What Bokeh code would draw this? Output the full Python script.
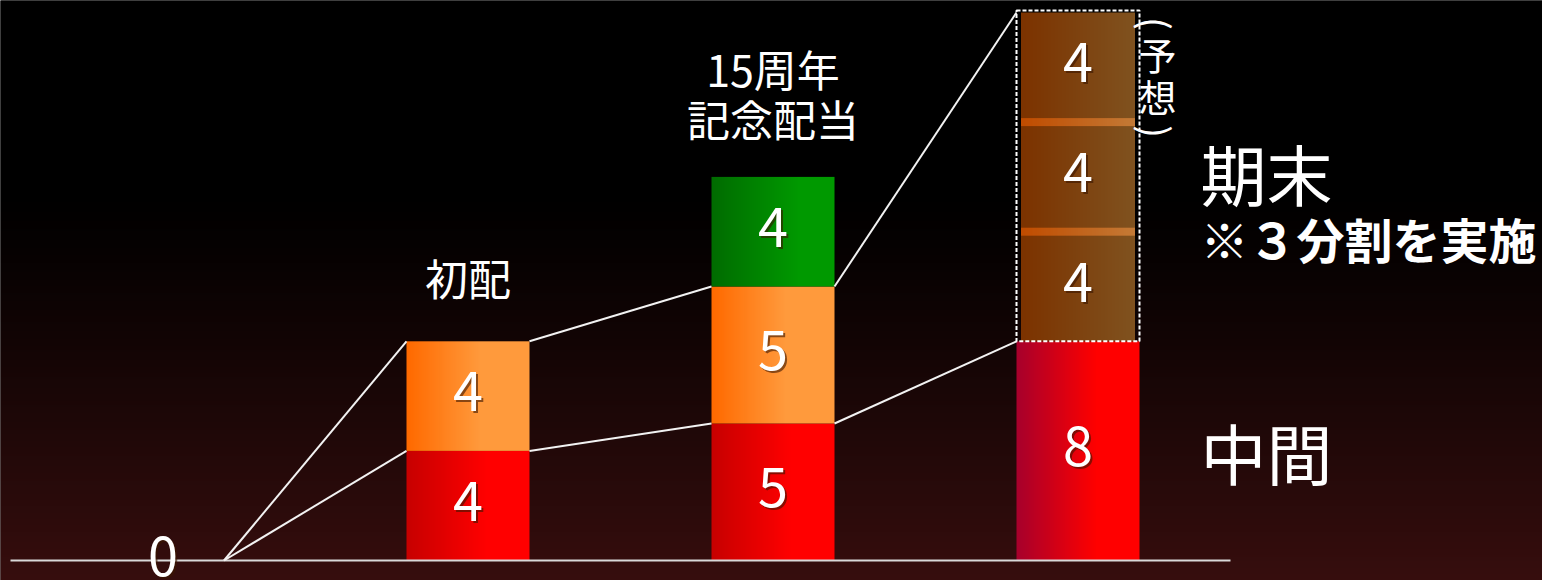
import numpy as np
from bokeh.plotting import figure
from bokeh.models import Range1d
from bokeh.core.properties import value
from bokeh.embed import file_html
from bokeh.resources import INLINE

# ---------------- data ----------------
categories = ["初配", "15周年記念配当", "今期（予想）"]
x_pos = [1, 2, 3]
interim = [4, 5, 8]            # 中間
final_ordinary = [4, 5, 0]     # 期末 (bars 1, 2)
commemorative = [0, 4, 0]      # 15周年記念配当
forecast_parts = [4, 4, 4]     # 期末 3分割 (bar 3, 予想)
zero_label = "0"

# ---------------- geometry / style ----------------
PX_X = 305.0
PX_Y = 27.4
W, H = 1542, 580
x0 = 1 - 467.5 / PX_X
x1 = x0 + W / PX_X
y1 = 560 / PX_Y
y0 = y1 - H / PX_Y
hw = 123 / PX_X / 2
brown_hw = 114 / PX_X / 2
FONT = value("Noto Sans CJK JP")
TY = -5  # vertical text nudge (px)

p = figure(width=W, height=H, output_backend="svg", toolbar_location=None,
           x_range=Range1d(x0, x1), y_range=Range1d(y0, y1), min_border=0)
p.axis.visible = False
p.grid.visible = False
p.outline_line_color = None
p.background_fill_color = "#000000"
p.border_fill_color = "#000000"


def hexrgb(h):
    h = h.lstrip("#")
    return np.array([int(h[i:i + 2], 16) for i in (0, 2, 4)], dtype=float)


def hgrad(c_left, c_right, knee=1.0, n=64):
    a, b = hexrgb(c_left), hexrgb(c_right)
    t = np.clip(np.linspace(0, 1, n) / knee, 0, 1)
    cols = a[None, :] * (1 - t[:, None]) + b[None, :] * t[:, None]
    img = np.empty((1, n), dtype=np.uint32)
    v = img.view(dtype=np.uint8).reshape((1, n, 4))
    v[0, :, 0:3] = cols.astype(np.uint8)
    v[0, :, 3] = 255
    return img


# background gradient (black top -> dark maroon bottom), slightly oversized
pad = 1.0
by0, by1 = y0 - pad, y1 + pad
nb = 300
bg = np.empty((nb, 1), dtype=np.uint32)
bv = bg.view(dtype=np.uint8).reshape((nb, 1, 4))
top_c, bot_c = hexrgb("#000000"), hexrgb("#370e0e")
for i in range(nb):
    yv = by0 + (i + 0.5) * (by1 - by0) / nb
    pagepx = 560 - yv * PX_Y
    t = np.clip((pagepx - 190) / (580 - 190), 0, 1) ** 1.15
    c = top_c * (1 - t) + bot_c * t
    bv[i, 0, 0:3] = c.astype(np.uint8)
    bv[i, 0, 3] = 255
p.image_rgba(image=[bg], x=x0 - pad, y=by0, dw=x1 - x0 + 2 * pad, dh=by1 - by0)

# ---------------- bars (gradient fills) ----------------
imgs, xs, ys, dws, dhs = [], [], [], [], []
red_cols = [("#c80000", "#ff0000", 0.65), ("#c80000", "#ff0000", 0.65), ("#a8002c", "#ff0000", 0.65)]
for i, xc in enumerate(x_pos):
    cl, cr, k = red_cols[i]
    imgs.append(hgrad(cl, cr, k)); xs.append(xc - hw); ys.append(0); dws.append(2 * hw); dhs.append(interim[i])
    if final_ordinary[i] > 0:
        imgs.append(hgrad("#ff6a00", "#ff9a3c", 0.6)); xs.append(xc - hw); ys.append(interim[i])
        dws.append(2 * hw); dhs.append(final_ordinary[i])
    if commemorative[i] > 0:
        imgs.append(hgrad("#006c00", "#009900", 0.7)); xs.append(xc - hw)
        ys.append(interim[i] + final_ordinary[i]); dws.append(2 * hw); dhs.append(commemorative[i])

# forecast bar (3 parts)
xc3 = x_pos[2]
base = interim[2]
cum = base
part_bounds = []
for v in forecast_parts:
    imgs.append(hgrad("#7c3300", "#80521f", 1.0)); xs.append(xc3 - brown_hw); ys.append(cum)
    dws.append(2 * brown_hw); dhs.append(v)
    cum += v
    part_bounds.append(cum)
band_h = 8 / PX_Y
for b in part_bounds[:-1]:
    imgs.append(hgrad("#c04c00", "#c47a36", 1.0)); xs.append(xc3 - brown_hw); ys.append(b - band_h / 2)
    dws.append(2 * brown_hw); dhs.append(band_h)
p.image_rgba(image=imgs, x=xs, y=ys, dw=dws, dh=dhs)

# dashed frame around forecast
total3 = base + sum(forecast_parts)
p.quad(left=[xc3 - hw], right=[xc3 + hw], bottom=[base], top=[total3 + 2 / PX_Y],
       fill_color=None, line_color="#ffffff", line_width=2, line_dash="4 2")

# ---------------- baseline & connecting lines ----------------
p.segment(x0=[-0.5], y0=[0], x1=[3.5], y1=[0], line_color="#d9d9d9", line_width=2)

origin_x = 0.2
mid_levels = [0] + interim
ord_levels = [0] + [interim[i] + final_ordinary[i] for i in range(2)] + [total3]
sx0, sy0, sx1, sy1 = [], [], [], []
for i in range(3):
    left_x = origin_x if i == 0 else x_pos[i - 1] + hw
    right_x = x_pos[i] - hw
    sx0 += [left_x, left_x]; sx1 += [right_x, right_x]
    sy0 += [mid_levels[i], ord_levels[i]]; sy1 += [mid_levels[i + 1], ord_levels[i + 1]]
p.segment(x0=sx0, y0=sy0, x1=sx1, y1=sy1, line_color="#f2f2f2", line_width=2)

# ---------------- value labels ----------------
lx, ly, lt = [], [], []
for i, xc in enumerate(x_pos):
    lx.append(xc); ly.append(interim[i] / 2); lt.append(str(interim[i]))
    if final_ordinary[i] > 0:
        lx.append(xc); ly.append(interim[i] + final_ordinary[i] / 2); lt.append(str(final_ordinary[i]))
    if commemorative[i] > 0:
        lx.append(xc); ly.append(interim[i] + final_ordinary[i] + commemorative[i] / 2); lt.append(str(commemorative[i]))
cum = base
for v in forecast_parts:
    lx.append(xc3); ly.append(cum + v / 2); lt.append(str(v))
    cum += v
lx.append(0); ly.append(0); lt.append(zero_label)

p.text(x=lx, y=ly, text=lt, text_font=FONT, text_font_size="54px", text_color="#3a1500",
       text_alpha=0.6, text_align="center", text_baseline="middle", x_offset=2, y_offset=TY + 2)
p.text(x=lx, y=ly, text=lt, text_font=FONT, text_font_size="54px", text_color="#ffffff",
       text_align="center", text_baseline="middle", y_offset=TY)

# ---------------- annotations ----------------
p.text(x=[1], y=[10.15], text=["初配"], text_font=FONT, text_font_size="43px",
       text_color="#ffffff", text_align="center", text_baseline="middle", y_offset=TY)
p.text(x=[2, 2], y=[17.8, 15.97], text=["15周年", "記念配当"], text_font=FONT, text_font_size="43px",
       text_color="#ffffff", text_align="center", text_baseline="middle", y_offset=TY)

side_x = 1 + (1200 - 467.5) / PX_X
p.text(x=[side_x, side_x], y=[14.0, 3.8], text=["期末", "中間"], text_font=FONT,
       text_font_size="66px", text_color="#ffffff", text_align="left", text_baseline="middle",
       y_offset=TY)
p.text(x=[side_x], y=[11.57], text=["※３分割を実施"], text_font=FONT, text_font_size="48px",
       text_font_style="bold", text_color="#ffffff", text_align="left", text_baseline="middle",
       y_offset=TY)

vert_x = 1 + (1157 - 467.5) / PX_X
p.text(x=[vert_x, vert_x], y=[18.4, 16.85], text=["予", "想"], text_font=FONT, text_font_size="38px",
       text_color="#ffffff", text_align="center", text_baseline="middle", y_offset=TY + 2)
p.text(x=[vert_x, vert_x], y=[19.6, 15.65], text=["(", ")"], text_font=FONT, text_font_size="38px",
       text_color="#ffffff", text_align="center", text_baseline="middle", angle=-np.pi / 2)

open("out.html", "w").write(file_html(p, INLINE))
